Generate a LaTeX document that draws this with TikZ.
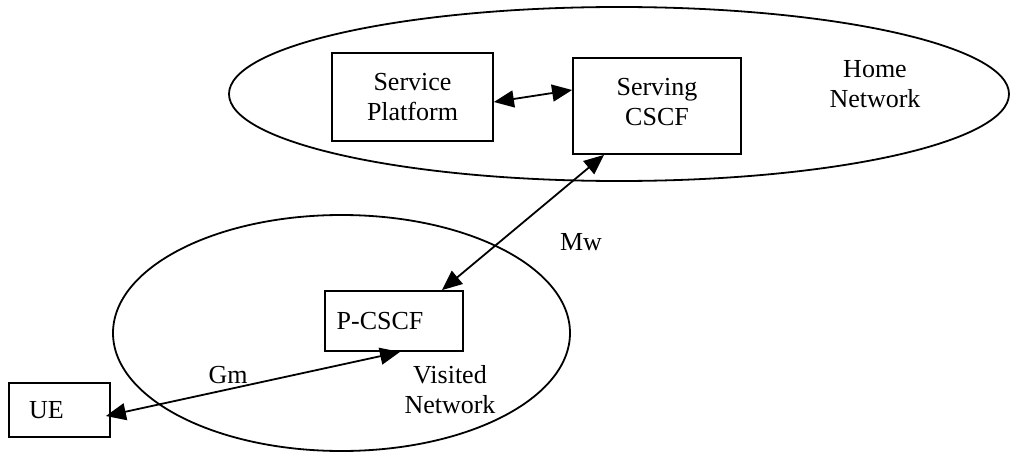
\documentclass[tikz,border=0pt]{standalone}
\usepackage{fontspec}
\setmainfont{Liberation Serif}
\usetikzlibrary{arrows.meta}
\begin{document}
\begin{tikzpicture}[x=1pt,y=-1pt,
  box/.style={draw, line width=1.8pt, rectangle, inner sep=0pt, font=\fontsize{26}{30}\selectfont, align=center},
  lbl/.style={font=\fontsize{26}{30}\selectfont, align=center, inner sep=0pt},
  net/.style={line width=1.8pt},
  link/.style={line width=1.8pt, {Triangle[length=20pt,width=17pt]}-{Triangle[length=20pt,width=17pt]}}]
\useasboundingbox (0,0) rectangle (1010,452);
% network regions
\draw[net] (619,94) ellipse [x radius=390, y radius=87];
\draw[net] (341.5,333) ellipse [x radius=228.5, y radius=118];
% boxes
\node[box, minimum width=161pt, minimum height=88pt] (sp) at (412.5,97) {Service\\Platform};
\node[box, minimum width=168pt, minimum height=96pt, label={[lbl,yshift=4pt]center:Serving\\CSCF}] (sc) at (657,106) {};
\node[box, minimum width=138pt, minimum height=60pt, label={[lbl,xshift=-14pt]center:P-CSCF}] (pc) at (394,321) {};
\node[box, minimum width=101pt, minimum height=54pt, label={[lbl,xshift=-13pt]center:UE}] (ue) at (59.5,410) {};
% texts
\node[lbl] (home) at (875,84) {Home\\Network};
\node[lbl] (visited) at (450,390) {Visited\\Network};
\node[lbl] (mw) at (581,242) {Mw};
\node[lbl] (gm) at (228,375) {Gm};
% connectors
\draw[link] ([yshift=-5pt]sp.east) -- ([yshift=16pt]sc.west);
\draw[link] ([xshift=48pt]pc.north) -- ([xshift=-53pt]sc.south);
\draw[link] ([yshift=-6pt,xshift=-5pt]ue.east) -- ([xshift=6pt]pc.south);
\end{tikzpicture}
\end{document}
